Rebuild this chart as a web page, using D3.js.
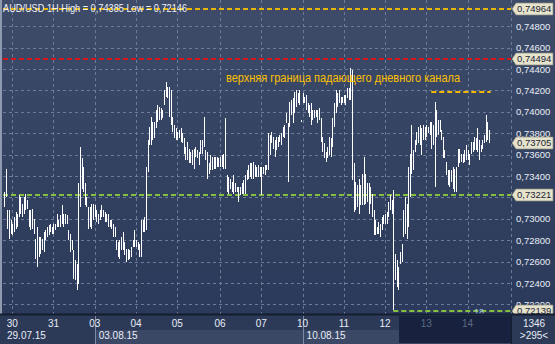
<!DOCTYPE html>
<html><head><meta charset="utf-8">
<script src="https://cdn.jsdelivr.net/npm/d3@7"></script>
<style>body{margin:0;background:#2b3a58}svg{display:block}</style>
</head><body>
<script>
// ---- data ----
const highs = [0.73252,0.73470,0.73080,0.73080,0.72986,0.72955,0.73018,0.73064,0.73049,0.73220,0.73205,0.73142,0.73205,0.73236,0.73174,0.73080,0.73080,0.73096,0.73002,0.72815,
0.72924,0.72830,0.72830,0.72815,0.72877,0.72893,0.72924,0.72939,0.72955,0.72924,0.72955,0.72955,0.73049,0.72986,0.73033,0.73127,0.73049,0.73049,0.73033,0.72893,
0.72862,0.72799,0.72706,0.72612,0.72581,0.73330,0.73673,0.73564,0.73486,0.73330,0.73205,0.73111,0.73111,0.73142,0.73142,0.73127,0.73080,0.73049,0.73080,0.73127,
0.73080,0.73064,0.73049,0.73049,0.72986,0.72986,0.72955,0.72924,0.72799,0.72784,0.72799,0.72830,0.72877,0.72784,0.72721,0.72721,0.72706,0.72737,0.72799,0.72893,
0.72799,0.72784,0.72768,0.72986,0.72986,0.73018,0.73486,0.73735,0.73860,0.73954,0.73907,0.73907,0.74016,0.74063,0.74047,0.74032,0.74016,0.74203,0.74281,0.74234,
0.74234,0.74203,0.73954,0.73876,0.73844,0.73813,0.73829,0.73844,0.73798,0.73751,0.73673,0.73720,0.73657,0.73626,0.73642,0.73657,0.73673,0.73642,0.73626,0.73735,
0.73735,0.73954,0.73642,0.73626,0.73517,0.73595,0.73579,0.73579,0.73579,0.73579,0.73564,0.73579,0.73595,0.73610,0.73938,0.73408,0.73392,0.73376,0.73345,0.73408,
0.73330,0.73298,0.73298,0.73298,0.73330,0.73361,0.73408,0.73454,0.73501,0.73517,0.73517,0.73532,0.73501,0.73486,0.73501,0.73486,0.73486,0.73486,0.73501,0.73501,
0.73798,0.73782,0.73813,0.73766,0.73735,0.73766,0.73766,0.73782,0.73798,0.73860,0.73876,0.73985,0.73891,0.74094,0.74110,0.74125,0.74188,0.74203,0.74172,0.74203,
0.73922,0.74172,0.74141,0.74156,0.74078,0.74063,0.74078,0.74016,0.74016,0.74016,0.74016,0.74032,0.73938,0.73766,0.73704,0.73626,0.73673,0.73766,0.73751,0.73938,
0.74078,0.74203,0.74172,0.74203,0.74141,0.74141,0.74156,0.74156,0.74219,0.74219,0.74406,0.74390,0.73517,0.73345,0.73314,0.73376,0.73314,0.73423,0.73579,0.73423,
0.73330,0.73330,0.73298,0.73236,0.73080,0.72986,0.72924,0.72971,0.72955,0.73018,0.73033,0.73049,0.73064,0.73158,0.73220,0.73174,0.73267,0.72674,0.72612,0.72550,
0.72690,0.72768,0.73080,0.73205,0.73142,0.73486,0.73610,0.73876,0.73642,0.73735,0.73813,0.73860,0.73876,0.73844,0.73876,0.73860,0.73876,0.73860,0.73907,0.73907,
0.73876,0.74094,0.74016,0.73922,0.73922,0.73829,0.73766,0.73642,0.73532,0.73454,0.73454,0.73454,0.73486,0.73470,0.73486,0.73657,0.73657,0.73610,0.73610,0.73642,
0.73688,0.73642,0.73610,0.73720,0.73720,0.73766,0.73751,0.73844,0.73735,0.73688,0.73735,0.73782,0.73969,0.73907,0.73829];
const lows = [0.73111,0.73205,0.72908,0.72815,0.72862,0.72846,0.72877,0.72908,0.72924,0.73018,0.73049,0.73018,0.73049,0.73080,0.73096,0.72924,0.72893,0.72908,0.72862,0.72628,
0.72550,0.72643,0.72674,0.72706,0.72690,0.72799,0.72830,0.72846,0.72877,0.72862,0.72862,0.72893,0.72924,0.72924,0.72924,0.72955,0.72924,0.72955,0.72955,0.72799,
0.72690,0.72706,0.72440,0.72425,0.72331,0.72394,0.73111,0.73283,0.73252,0.73127,0.73111,0.72908,0.72924,0.72908,0.72986,0.73018,0.72971,0.72955,0.72986,0.73018,
0.73018,0.72971,0.72971,0.72924,0.72924,0.72908,0.72830,0.72830,0.72706,0.72643,0.72628,0.72706,0.72706,0.72659,0.72596,0.72612,0.72628,0.72643,0.72737,0.72737,
0.72737,0.72706,0.72643,0.72643,0.72877,0.72877,0.72893,0.73439,0.73688,0.73688,0.73735,0.73751,0.73844,0.73907,0.73922,0.73922,0.73938,0.74063,0.74141,0.74125,
0.73954,0.73876,0.73813,0.73751,0.73735,0.73735,0.73751,0.73720,0.73704,0.73610,0.73548,0.73548,0.73517,0.73517,0.73501,0.73470,0.73579,0.73564,0.73501,0.73610,
0.73610,0.73673,0.73548,0.73376,0.73423,0.73454,0.73454,0.73470,0.73470,0.73486,0.73486,0.73486,0.73486,0.73470,0.73470,0.73252,0.73236,0.73283,0.73252,0.73236,
0.73252,0.73252,0.73158,0.73220,0.73236,0.73236,0.73236,0.73361,0.73376,0.73392,0.73376,0.73376,0.73392,0.73392,0.73392,0.73392,0.73220,0.73423,0.73408,0.73454,
0.73454,0.73595,0.73704,0.73657,0.73579,0.73642,0.73673,0.73720,0.73688,0.73766,0.73751,0.73891,0.73345,0.73860,0.73969,0.73891,0.73985,0.74047,0.74078,0.74063,
0.73907,0.74078,0.74078,0.74016,0.73985,0.73954,0.73876,0.73922,0.73938,0.73954,0.73891,0.73922,0.73720,0.73626,0.73564,0.73532,0.73564,0.73595,0.73579,0.73673,
0.73860,0.73985,0.74047,0.74078,0.74063,0.74078,0.74078,0.74063,0.74125,0.74110,0.74110,0.73361,0.73064,0.73080,0.73111,0.73049,0.73127,0.73127,0.73127,0.73142,
0.73158,0.73049,0.73142,0.73018,0.72846,0.72846,0.72862,0.72862,0.72830,0.72893,0.72955,0.72955,0.72955,0.73018,0.73080,0.73049,0.72144,0.72425,0.72362,0.72331,
0.72581,0.72596,0.72830,0.72862,0.72815,0.72924,0.73205,0.73423,0.73454,0.73626,0.73688,0.73704,0.73688,0.73595,0.73735,0.73735,0.73766,0.73798,0.73782,0.73657,
0.73688,0.73298,0.73766,0.73782,0.73813,0.73735,0.73564,0.73564,0.73408,0.73314,0.73298,0.73345,0.73283,0.73252,0.73252,0.73486,0.73517,0.73532,0.73517,0.73532,
0.73548,0.73548,0.73501,0.73610,0.73626,0.73642,0.73642,0.73626,0.73548,0.73626,0.73657,0.73704,0.73720,0.73735,0.73705];
const dayLabels = ["30","31","03","04","05","06","07","10","11","12","13","14"];
const dayStart = [5,30,55,80,105,131,156,181,206,231,256,281];
const weekLabels = ["29.07.15","03.08.15","10.08.15"];
const weekDay = [0,2,7];
const priceTicks = [0.722,0.724,0.726,0.728,0.730,0.732,0.734,0.736,0.738,0.740,0.742,0.744,0.746,0.748];
const levelTop = 0.74964, levelRed = 0.74494, levelMid = 0.73221, levelLow = 0.72139, levelShort = 0.74185;
const lastPrice = 0.73705;
const titleText = "AUD/USD 1H High = 0,74385 Low = 0,72146";
const noteText = "верхняя граница падающего дневного канала";

// ---- drawing ----
const W = 555, H = 344, PL = 3, PR = 511, PB = 314;
const svg = d3.select("body").append("svg").attr("width", W).attr("height", H);
const defs = svg.append("defs");
const g1 = defs.append("linearGradient").attr("id","bg").attr("x1",0).attr("y1",0).attr("x2",0).attr("y2",1);
g1.append("stop").attr("offset","0").attr("stop-color","#3e4c6a");
g1.append("stop").attr("offset","1").attr("stop-color","#2b395a");
svg.append("rect").attr("x",0).attr("y",0).attr("width",W).attr("height",PB).attr("fill","url(#bg)");

const x = d3.scaleLinear().domain([0, highs.length - 1]).range([4, 489]);
const y = d3.scaleLinear().domain([0.744, 0.724]).range([69, 283]);
const fmt = d => d3.format(".5f")(d).replace(".", ",");
const boxPrices = [levelTop, levelRed, lastPrice, levelMid, levelLow];

// grid
const grid = svg.append("g").attr("stroke","#6b7b98").attr("stroke-dasharray","3,3").attr("stroke-width",1);
priceTicks.forEach(p => grid.append("line").attr("x1",PL).attr("x2",PR).attr("y1",Math.round(y(p))+0.5).attr("y2",Math.round(y(p))+0.5));
dayStart.forEach(i => grid.append("line").attr("x1",Math.round(x(i))+0.5).attr("x2",Math.round(x(i))+0.5).attr("y1",0).attr("y2",PB));
grid.append("line").attr("x1",PR+0.5).attr("x2",PR+0.5).attr("y1",0).attr("y2",PB);

// left edge
svg.append("rect").attr("x",0).attr("y",0).attr("width",2).attr("height",PB).attr("fill","#8d9ab0");

// levels
function level(p, i0, x2, color) {
  svg.append("line").attr("x1", i0 == null ? PL : x(i0)).attr("x2", x2)
    .attr("y1", Math.round(y(p))).attr("y2", Math.round(y(p)))
    .attr("stroke", color).attr("stroke-width", 2).attr("stroke-dasharray","5,3");
}
level(levelTop, null, PR, "#e8b400");
level(levelRed, null, PR, "#d81818");
level(levelMid, null, PR, "#86c040");
level(levelLow, 236, PR, "#86c040");
level(levelShort, 259, x(highs.length), "#f0b800");

// bars
svg.append("g").attr("shape-rendering","crispEdges").selectAll("line").data(highs).join("line")
  .attr("x1",(d,i)=>Math.round(x(i))+0.5).attr("x2",(d,i)=>Math.round(x(i))+0.5)
  .attr("y1",d=>y(d)).attr("y2",(d,i)=>Math.max(y(lows[i]), y(d)+1))
  .attr("stroke","#ffffff").attr("stroke-width",1.4);

// title & note
svg.append("text").attr("x",3).attr("y",12).text(titleText)
  .attr("font-family","Liberation Sans, Arial, sans-serif").attr("font-size",10.5)
  .attr("fill","#eef0f4").attr("textLength",184).attr("lengthAdjust","spacingAndGlyphs");
svg.append("text").attr("x",226).attr("y",82).text(noteText)
  .attr("font-family","Liberation Sans, Arial, sans-serif").attr("font-size",12)
  .attr("fill","#ffc000").attr("textLength",234).attr("lengthAdjust","spacingAndGlyphs");
svg.append("text").attr("x",474).attr("y",315).text("18")
  .attr("font-family","Liberation Sans, Arial, sans-serif").attr("font-size",9)
  .attr("fill","#a8c8e8");

// right axis (labels fully covered by a price box are left out)
const visibleTicks = priceTicks.filter(p => !boxPrices.some(b => Math.abs(y(b) - y(p)) < 5));
const ax = svg.append("g").attr("transform",`translate(${PR+5},0)`)
  .call(d3.axisRight(y).tickValues(visibleTicks).tickFormat(fmt).tickSize(0).tickPadding(0));
ax.select(".domain").remove();
ax.selectAll("text").attr("fill","#e8edf5").attr("font-family","Liberation Sans, Arial, sans-serif").attr("font-size",9.5);

// price boxes
boxPrices.forEach(p => {
  const cy = Math.round(y(p));
  svg.append("path").attr("d",`M${PR+1},${cy} L${PR+5},${cy-6} L${W-2},${cy-6} L${W-2},${cy+6} L${PR+5},${cy+6} Z`)
    .attr("fill","#e6e3cc").attr("stroke","#8a8a80").attr("stroke-width",0.7);
  svg.append("text").attr("x",PR+6).attr("y",cy).attr("dy","0.35em").text(fmt(p))
    .attr("fill","#1c2436").attr("font-family","Liberation Sans, Arial, sans-serif").attr("font-size",9.5);
});

// bottom axis
svg.append("rect").attr("x",0).attr("y",PB).attr("width",W).attr("height",H-PB).attr("fill","#2c3a58");
svg.append("rect").attr("x",Math.round(x(dayStart[2]))).attr("y",330).attr("width",PR-Math.round(x(dayStart[2]))).attr("height",H-330).attr("fill","#3a4866");
svg.append("rect").attr("x",399).attr("y",PB+2).attr("width",PR-399).attr("height",H-PB-3).attr("fill","#18223e");
svg.append("line").attr("x1",0).attr("x2",W).attr("y1",PB+0.5).attr("y2",PB+0.5).attr("stroke","#141c30").attr("stroke-width",2);
svg.append("line").attr("x1",PR+0.5).attr("x2",PR+0.5).attr("y1",PB).attr("y2",H).attr("stroke","#141c30");
weekDay.slice(1).forEach(d => svg.append("line").attr("x1",Math.round(x(dayStart[d]))+0.5).attr("x2",Math.round(x(dayStart[d]))+0.5)
  .attr("y1",PB+2).attr("y2",H).attr("stroke","#7d8aa3"));
const bx = svg.append("g").attr("font-family","Liberation Sans, Arial, sans-serif").attr("font-size",10);
dayLabels.forEach((l,k) => bx.append("text").attr("x",x(dayStart[k])).attr("y",327).attr("text-anchor","middle")
  .attr("fill", k >= 10 ? "#5c6a86" : "#e8edf5").text(l));
weekLabels.forEach((l,k) => bx.append("text").attr("x", k==0 ? 7 : x(dayStart[weekDay[k]])+4).attr("y",339)
  .attr("fill","#e8edf5").text(l));
bx.append("text").attr("x",534).attr("y",327).attr("text-anchor","middle").attr("fill","#e8edf5").text("1346");
bx.append("text").attr("x",534).attr("y",339).attr("text-anchor","middle").attr("fill","#e8edf5").text(">295<");
</script>
</body></html>
